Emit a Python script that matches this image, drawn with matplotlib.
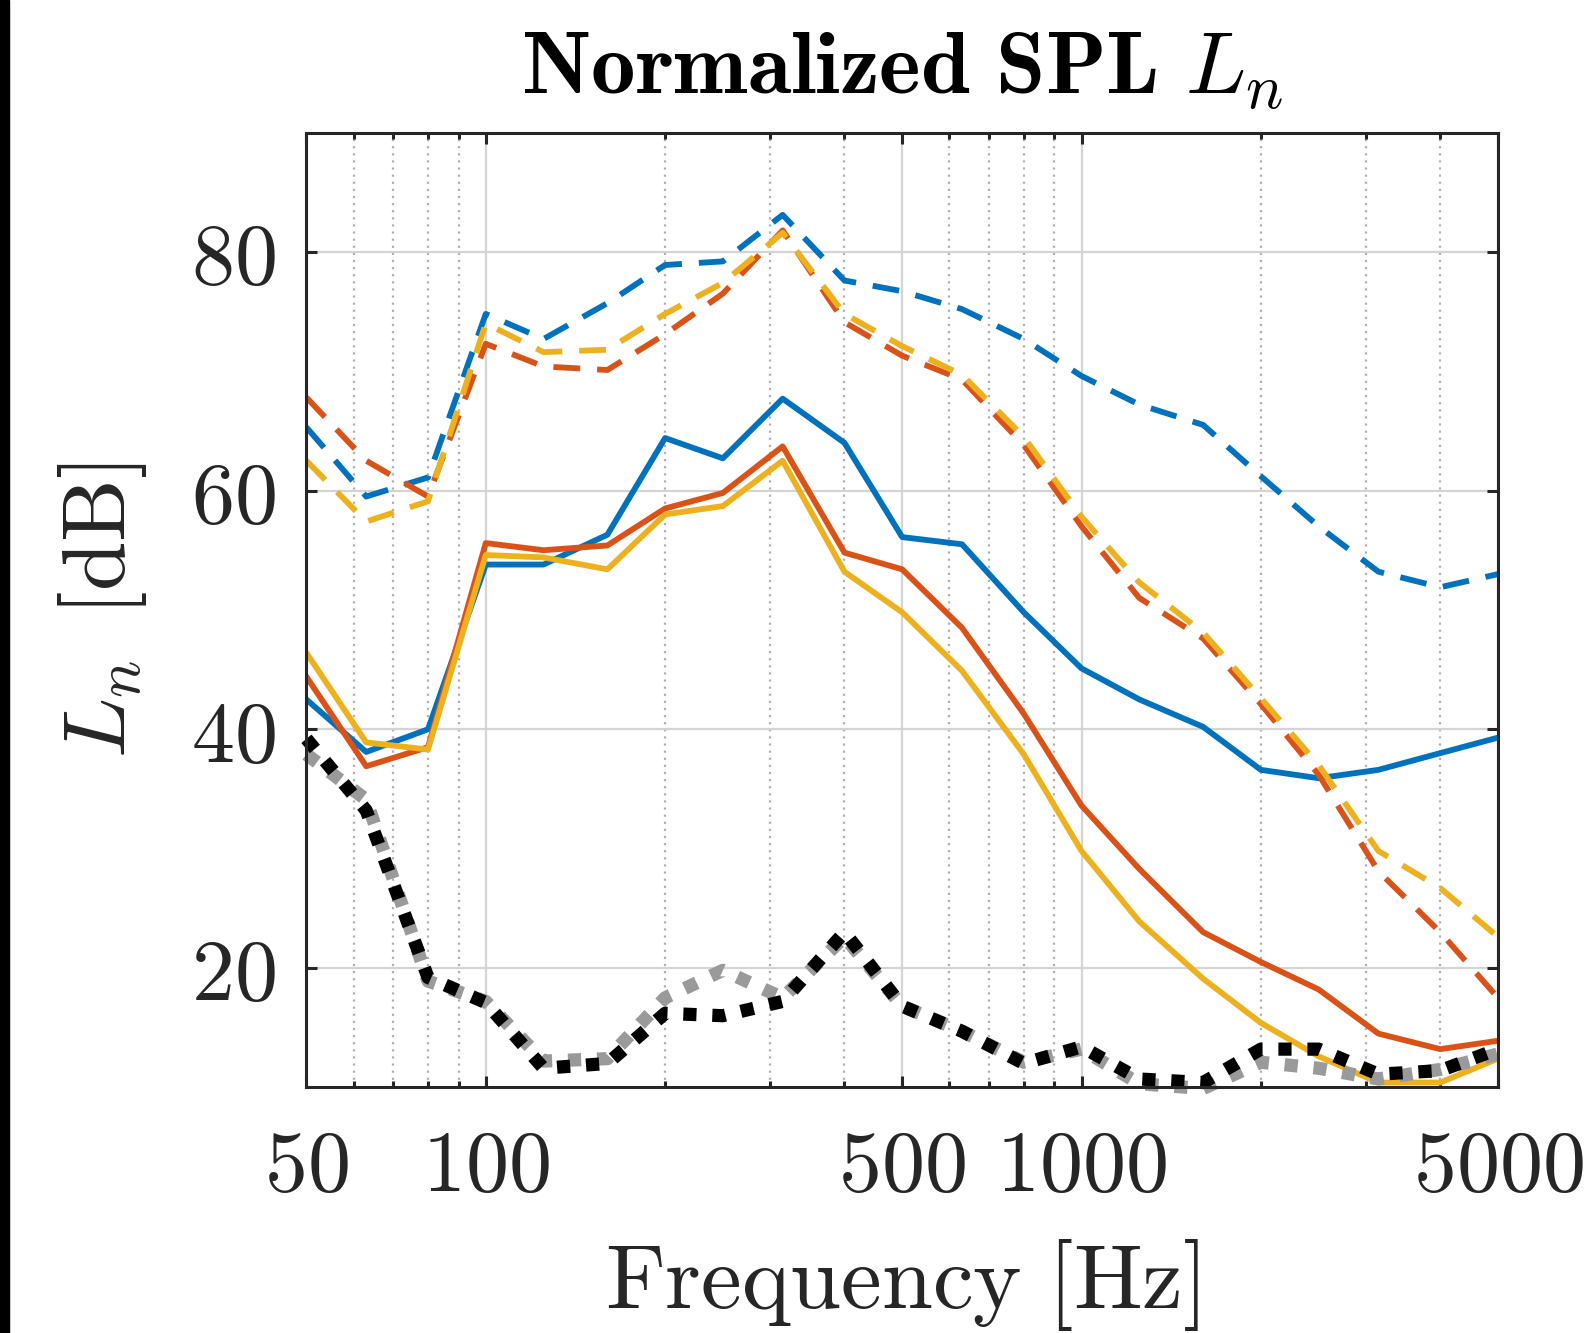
import matplotlib
matplotlib.use("Agg")
import matplotlib.pyplot as plt
from matplotlib.ticker import FixedLocator, FixedFormatter, NullFormatter

plt.rcParams["mathtext.fontset"] = "cm"

# third-octave band centres
freq = [50, 63, 80, 100, 125, 160, 200, 250, 315, 400, 500, 630, 800,
        1000, 1250, 1600, 2000, 2500, 3150, 4000, 5000]

blue_solid = [42.5, 38.1, 40.0, 53.8, 53.8, 56.3, 64.4, 62.7, 67.7, 64.0, 56.1,
              55.5, 49.8, 45.1, 42.5, 40.2, 36.6, 35.9, 36.6, 38.0, 39.3]
red_solid = [44.4, 36.9, 38.5, 55.6, 55.0, 55.4, 58.5, 59.8, 63.7, 54.8, 53.4,
             48.5, 41.3, 33.6, 28.3, 23.0, 20.5, 18.2, 14.5, 13.2, 13.9]
yellow_solid = [46.4, 38.9, 38.3, 54.6, 54.4, 53.4, 58.0, 58.7, 62.5, 53.2, 49.8,
                44.9, 37.9, 29.8, 23.9, 19.1, 15.4, 12.6, 10.4, 10.4, 12.4]

blue_dash = [65.3, 59.5, 61.1, 74.8, 72.7, 75.7, 78.9, 79.2, 83.1, 77.6, 76.7,
             75.2, 72.7, 69.6, 67.2, 65.5, 61.2, 57.0, 53.2, 51.9, 53.0]
red_dash = [67.8, 62.5, 59.5, 72.3, 70.4, 70.1, 73.1, 76.5, 81.8, 74.1, 71.3,
            69.3, 63.8, 57.0, 51.0, 47.6, 42.1, 36.2, 28.1, 23.0, 17.5]
yellow_dash = [62.5, 57.4, 59.1, 74.0, 71.6, 71.8, 74.8, 77.4, 81.6, 74.8, 72.1,
               69.7, 64.5, 57.8, 52.3, 48.1, 42.6, 37.0, 29.8, 26.7, 22.6]

gray_dot = [37.9, 34.1, 18.9, 17.2, 12.2, 12.4, 17.5, 19.8, 17.5, 22.6, 16.8,
            14.7, 12.1, 13.2, 10.3, 9.9, 12.1, 11.6, 10.7, 11.5, 12.8]
black_dot = [39.2, 33.2, 19.2, 17.1, 11.6, 12.0, 16.2, 16.0, 17.2, 23.0, 16.8,
             14.7, 12.0, 13.4, 10.7, 10.4, 13.2, 13.2, 11.1, 11.4, 13.2]

xticks = [50, 100, 500, 1000, 5000]
xminor = [60, 70, 80, 90, 200, 300, 400, 600, 700, 800, 900, 2000, 3000, 4000]
yticks = [20, 40, 60, 80]

c_blue = "#0072BD"
c_red = "#D95319"
c_yel = "#EDB120"

fig = plt.figure(figsize=(15.86, 13.33), dpi=100)
fig.patches.append(plt.Rectangle((0, 0), 0.0055, 1, transform=fig.transFigure,
                                 color="black", zorder=10))
ax = fig.add_axes([0.1932, 0.1843, 0.7513, 0.7163])

lw = 4.2
ax.plot(freq, blue_solid, color=c_blue, lw=lw)
ax.plot(freq, red_solid, color=c_red, lw=lw)
ax.plot(freq, yellow_solid, color=c_yel, lw=lw)
for y, c in [(blue_dash, c_blue), (red_dash, c_red), (yellow_dash, c_yel)]:
    ax.plot(freq, y, color=c, lw=lw, dashes=(4.6, 2.9), dash_capstyle="butt")
ax.plot(freq, gray_dot, color="#9a9a9a", lw=9.5, dashes=(1, 1.2),
        dash_capstyle="butt", clip_on=False)
ax.plot(freq, black_dot, color="black", lw=9.5, dashes=(1, 1.2),
        dash_capstyle="butt", clip_on=False)

ax.set_xscale("log")
ax.set_xlim(50, 5000)
ax.set_ylim(10, 90)

ax.xaxis.set_major_locator(FixedLocator(xticks))
ax.xaxis.set_major_formatter(FixedFormatter([r"$%d$" % t for t in xticks]))
ax.xaxis.set_minor_locator(FixedLocator(xminor))
ax.xaxis.set_minor_formatter(NullFormatter())
ax.yaxis.set_major_locator(FixedLocator(yticks))
ax.yaxis.set_major_formatter(FixedFormatter([r"$%d$" % t for t in yticks]))

ax.grid(True, which="major", color="#d4d4d4", lw=1.6, ls="-")
ax.grid(True, which="minor", axis="x", color="#b0b0b0", lw=1.6, ls=(0, (1, 2.2)))
ax.set_axisbelow(True)

for s in ax.spines.values():
    s.set_color("#262626")
    s.set_linewidth(2.2)

ax.tick_params(which="both", direction="in", top=True, right=True,
               colors="#262626", width=2.2)
ax.tick_params(which="major", length=8, labelsize=62)
ax.tick_params(which="minor", length=4.5)
ax.tick_params(axis="x", pad=28)
ax.tick_params(axis="y", pad=22)

ax.set_xlabel(r"$\mathrm{Frequency\ [Hz]}$", fontsize=66, color="#262626",
              labelpad=20)
ax.set_ylabel(r"$L_n\ \,\mathrm{[dB]}$", fontsize=64, color="#262626",
              labelpad=30)
ax.set_title(r"$\mathbf{Normalized\ SPL}\ L_n$", fontsize=64, pad=28)

fig.savefig("out.png", dpi=100, facecolor="white")
